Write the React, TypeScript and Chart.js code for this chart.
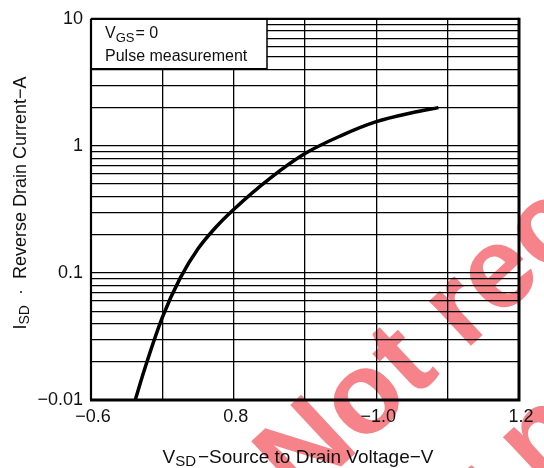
import { useEffect, useRef } from "react";
import { Chart, registerables } from "chart.js";

Chart.register(...registerables);

// Curve: source-to-drain voltage (V, magnitude) vs reverse drain current (A)
const vsd = [0.662, 0.675, 0.70, 0.725, 0.75, 0.775, 0.80, 0.85, 0.90, 0.95, 1.00, 1.05, 1.087];
const isd = [0.01, 0.0174, 0.0447, 0.091, 0.155, 0.229, 0.316, 0.55, 0.87, 1.2, 1.55, 1.82, 2.0];

// Grid / tick definitions
const xGrid = [0.6, 0.7, 0.8, 0.9, 1.0, 1.1, 1.2];
const xLabelValues = [0.6, 0.8, 1.0, 1.2];
const xLabelTexts = ["−0.6", "0.8", "−1.0", "1.2"];

const yGrid = [
  0.01, 0.02, 0.03, 0.04, 0.05, 0.06, 0.07, 0.08, 0.09,
  0.1, 0.2, 0.3, 0.4, 0.5, 0.6, 0.7, 0.8, 0.9,
  1, 2, 3, 4, 5, 6, 7, 8, 9,
  10,
];
const yLabelValues = [0.01, 0.1, 1, 10];
const yLabelTexts = ["−0.01", "0.1", "1", "10"];

const FONT = '"Liberation Sans", Arial, sans-serif';

function labelFor(v: number, values: number[], texts: string[]): string {
  for (let i = 0; i < values.length; i++) {
    if (Math.abs(values[i] - v) / values[i] < 1e-6) return texts[i];
  }
  return "";
}

const watermarkPlugin = {
  id: "watermark",
  beforeDraw(chart: any) {
    const ctx = chart.ctx as CanvasRenderingContext2D;
    ctx.save();
    ctx.fillStyle = "#ffffff";
    ctx.fillRect(0, 0, chart.width, chart.height);
    ctx.fillStyle = "rgba(240, 55, 65, 0.62)";
    ctx.font = `bold 116px ${FONT}`;
    ctx.translate(300, 505);
    ctx.rotate((-43 * Math.PI) / 180);
    ctx.textBaseline = "alphabetic";
    ctx.fillText("Not recommended", 0, 0);
    ctx.fillText("for new design", 0, 150);
    ctx.restore();
  },
};

const boxPlugin = {
  id: "condBox",
  beforeDatasetsDraw(chart: any) {
    const ctx = chart.ctx as CanvasRenderingContext2D;
    const a = chart.chartArea;
    const x0 = a.left;
    const y0 = a.top;
    const w = 176;
    const h = 50;
    ctx.save();
    ctx.fillStyle = "#ffffff";
    ctx.fillRect(x0, y0, w, h);
    ctx.strokeStyle = "#000";
    ctx.lineWidth = 1.5;
    ctx.beginPath();
    ctx.moveTo(x0, y0 + h);
    ctx.lineTo(x0 + w, y0 + h);
    ctx.lineTo(x0 + w, y0);
    ctx.stroke();
    ctx.fillStyle = "#111";
    ctx.textBaseline = "alphabetic";
    ctx.font = `16px ${FONT}`;
    let x = x0 + 14;
    ctx.fillText("V", x, y0 + 19);
    x += ctx.measureText("V").width;
    ctx.font = `13px ${FONT}`;
    ctx.fillText("GS", x, y0 + 23);
    x += ctx.measureText("GS").width + 1;
    ctx.font = `16px ${FONT}`;
    ctx.fillText("= 0", x, y0 + 19);
    ctx.fillText("Pulse measurement", x0 + 14, y0 + 42);
    ctx.restore();
  },
};

const framePlugin = {
  id: "frame",
  afterDatasetsDraw(chart: any) {
    const ctx = chart.ctx as CanvasRenderingContext2D;
    const a = chart.chartArea;
    ctx.save();
    ctx.strokeStyle = "#000";
    ctx.lineWidth = 2.2;
    ctx.beginPath();
    ctx.moveTo(a.left, a.top);
    ctx.lineTo(a.right, a.top);
    ctx.moveTo(a.left, a.top);
    ctx.lineTo(a.left, a.bottom);
    ctx.stroke();
    ctx.lineWidth = 3;
    ctx.beginPath();
    ctx.moveTo(a.left - 1, a.bottom);
    ctx.lineTo(a.right, a.bottom);
    ctx.lineTo(a.right, a.top - 1);
    ctx.stroke();
    ctx.restore();
  },
  afterDraw(chart: any) {
    const ctx = chart.ctx as CanvasRenderingContext2D;
    const a = chart.chartArea;
    ctx.save();
    ctx.fillStyle = "#111";
    ctx.textBaseline = "alphabetic";
    // X axis title with subscript
    const mainX = `19px ${FONT}`;
    const subX = `15px ${FONT}`;
    const parts: [string, boolean][] = [["V", false], ["SD", true], ["−Source to Drain Voltage−V", false]];
    let total = 0;
    for (const [t, sub] of parts) {
      ctx.font = sub ? subX : mainX;
      total += ctx.measureText(t).width + (sub ? 2 : 0);
    }
    let x = (a.left + a.right) / 2 - total / 2 - 7;
    const by = 463;
    for (const [t, sub] of parts) {
      ctx.font = sub ? subX : mainX;
      ctx.fillText(t, x, sub ? by + 3 : by);
      x += ctx.measureText(t).width + (sub ? 2 : 0);
    }
    // Y axis title rotated
    const mainF = `18px ${FONT}`;
    const subF = `14px ${FONT}`;
    const yparts: [string, boolean][] = [["I", false], ["SD", true], ["  ·  Reverse Drain Current−A", false]];
    let ytotal = 0;
    for (const [t, sub] of yparts) {
      ctx.font = sub ? subF : mainF;
      ytotal += ctx.measureText(t).width;
    }
    ctx.translate(26, 203);
    ctx.rotate(-Math.PI / 2);
    let yx = -ytotal / 2;
    for (const [t, sub] of yparts) {
      ctx.font = sub ? subF : mainF;
      ctx.fillText(t, yx, sub ? 3 : 0);
      yx += ctx.measureText(t).width;
    }
    ctx.restore();
  },
};

export default function App() {
  const ref = useRef<HTMLCanvasElement | null>(null);

  useEffect(() => {
    if (!ref.current) return;
    const points = vsd.map((v, i) => ({ x: v, y: isd[i] }));
    const chart = new Chart(ref.current, {
      type: "line",
      data: {
        datasets: [
          {
            data: points,
            borderColor: "#000",
            borderWidth: 3.5,
            pointRadius: 0,
            cubicInterpolationMode: "monotone",
            fill: false,
          },
        ],
      },
      options: {
        responsive: false,
        animation: false,
        devicePixelRatio: 1,
        layout: { padding: { left: 0, top: 13, right: 25, bottom: 0 } },
        plugins: {
          legend: { display: false },
          tooltip: { enabled: false },
          title: { display: false },
        },
        scales: {
          x: {
            type: "linear",
            min: 0.6,
            max: 1.2,
            afterBuildTicks: (scale: any) => {
              scale.ticks = xGrid.map((v) => ({ value: v }));
            },
            afterFit: (scale: any) => {
              scale.height = 68;
            },
            ticks: {
              autoSkip: false,
              maxRotation: 0,
              padding: 6,
              labelOffset: 2,
              color: "#111",
              font: { family: FONT, size: 18 },
              callback: (v: any) => labelFor(Number(v), xLabelValues, xLabelTexts),
            },
            grid: { color: "#000", lineWidth: 1.3, drawTicks: false },
            border: { display: false },
          },
          y: {
            type: "logarithmic",
            min: 0.01,
            max: 10,
            afterBuildTicks: (scale: any) => {
              scale.ticks = yGrid.map((v) => ({ value: v }));
            },
            afterFit: (scale: any) => {
              scale.width = 91;
            },
            ticks: {
              autoSkip: false,
              padding: 8,
              color: "#111",
              font: { family: FONT, size: 18 },
              callback: (v: any) => labelFor(Number(v), yLabelValues, yLabelTexts),
            },
            grid: { color: "#000", lineWidth: 1.3, drawTicks: false },
            border: { display: false },
          },
        },
      },
      plugins: [watermarkPlugin, boxPlugin, framePlugin],
    } as any);
    return () => chart.destroy();
  }, []);

  return (
    <div style={{ position: "absolute", left: 0, top: 0, width: 544, height: 468, background: "#fff" }}>
      <canvas ref={ref} width={544} height={468} style={{ display: "block" }} />
    </div>
  );
}
